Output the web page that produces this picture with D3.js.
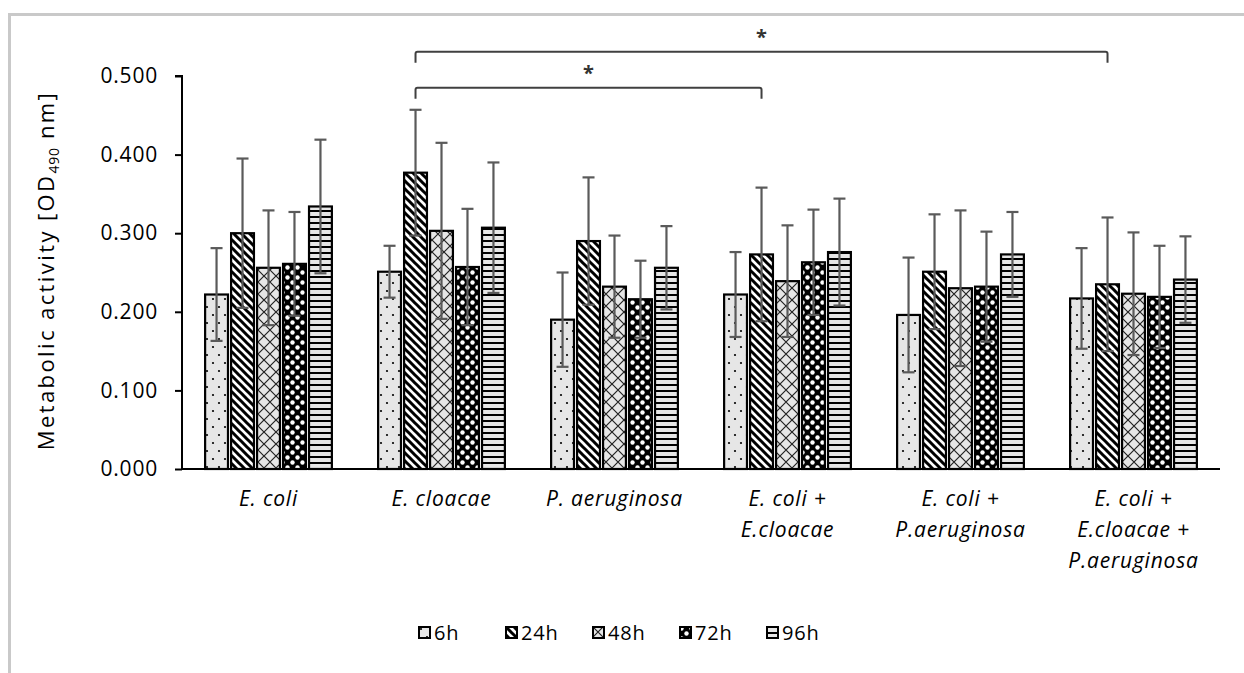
<!DOCTYPE html>
<meta charset="utf-8">
<script src="https://cdn.jsdelivr.net/npm/d3@7"></script>
<style>
    body { margin: 0; background: #fff; }
    text { font-family: "Open Sans", sans-serif; fill: #000; }
    .tick text { font-size: 21px; letter-spacing: 0.8px; }
    .xlab { font-style: italic; font-size: 21px; letter-spacing: 0.8px; }
</style>
<body>
<div id="chart"></div>
<script>

    var groups = ["E. coli", "E. cloacae", "P. aeruginosa", "E. coli + E.cloacae", "E. coli + P.aeruginosa", "E. coli + E.cloacae + P.aeruginosa"]
    var groupLines = [["E. coli"], ["E. cloacae"], ["P. aeruginosa"], ["E. coli +", "E.cloacae"], ["E. coli +", "P.aeruginosa"], ["E. coli +", "E.cloacae +", "P.aeruginosa"]]
    var series = ["6h", "24h", "48h", "72h", "96h"]

    // means per group, one entry per series
    var means = [
        [0.222, 0.300, 0.256, 0.261, 0.334],
        [0.251, 0.377, 0.303, 0.257, 0.307],
        [0.190, 0.290, 0.232, 0.216, 0.256],
        [0.222, 0.273, 0.239, 0.263, 0.276],
        [0.196, 0.251, 0.230, 0.232, 0.273],
        [0.217, 0.235, 0.223, 0.219, 0.241]
    ]
    // standard deviations
    var sds = [
        [0.059, 0.095, 0.073, 0.066, 0.085],
        [0.033, 0.080, 0.112, 0.074, 0.083],
        [0.060, 0.081, 0.065, 0.049, 0.053],
        [0.054, 0.085, 0.071, 0.067, 0.068],
        [0.073, 0.073, 0.099, 0.070, 0.054],
        [0.064, 0.085, 0.078, 0.065, 0.055]
    ]
    var yTicks = [0, 0.1, 0.2, 0.3, 0.4, 0.5]

    // significance brackets: [group, series] -> [group, series]
    var sigFrom = [[1, "24h"], [1, "24h"]]
    var sigTo = [[3, "24h"], [5, "24h"]]
    var sigLevel = [0.485, 0.531]
    var sigLabel = ["*", "*"]

    var W = 1244, H = 673
    var mLeft = 182, mRight = 1220, mTop = 76, mBottom = 469

    var svg = d3.select("#chart").append("svg").attr("width", W).attr("height", H)
    svg.append("rect").attr("width", W).attr("height", H).attr("fill", "#fff")

    // frame
    svg.append("path").attr("d", "M9.5," + H + " V14.5 H" + W).attr("fill", "none").attr("stroke", "#c9c9c9").attr("stroke-width", 3)

    var defs = svg.append("defs")
    var p6 = defs.append("pattern").attr("id", "p6h").attr("patternUnits", "userSpaceOnUse").attr("width", 12).attr("height", 16)
    p6.append("rect").attr("width", 12).attr("height", 16).attr("fill", "#e6e6e6")
    p6.append("circle").attr("cx", 3).attr("cy", 3).attr("r", 1.1).attr("fill", "#000")
    p6.append("circle").attr("cx", 9).attr("cy", 11).attr("r", 1.1).attr("fill", "#000")

    var p24 = defs.append("pattern").attr("id", "p24h").attr("patternUnits", "userSpaceOnUse").attr("width", 8).attr("height", 8)
    p24.append("rect").attr("width", 8).attr("height", 8).attr("fill", "#fff")
    p24.append("path").attr("d", "M-2,-2 L10,10 M-2,6 L2,10 M6,-2 L10,2").attr("stroke", "#000").attr("stroke-width", 3)

    var p48 = defs.append("pattern").attr("id", "p48h").attr("patternUnits", "userSpaceOnUse").attr("width", 12).attr("height", 12)
    p48.append("rect").attr("width", 12).attr("height", 12).attr("fill", "#e6e6e6")
    p48.append("path").attr("d", "M0,0 L12,12 M12,0 L0,12").attr("stroke", "#222").attr("stroke-width", 1.2)

    var p72 = defs.append("pattern").attr("id", "p72h").attr("patternUnits", "userSpaceOnUse").attr("width", 10).attr("height", 10)
    p72.append("rect").attr("width", 10).attr("height", 10).attr("fill", "#000")
    p72.append("circle").attr("cx", 2.5).attr("cy", 2.5).attr("r", 2.2).attr("fill", "#fff")
    p72.append("circle").attr("cx", 7.5).attr("cy", 7.5).attr("r", 2.2).attr("fill", "#fff")

    var p96 = defs.append("pattern").attr("id", "p96h").attr("patternUnits", "userSpaceOnUse").attr("width", 8).attr("height", 6)
    p96.append("rect").attr("width", 8).attr("height", 6).attr("fill", "#e6e6e6")
    p96.append("rect").attr("y", 0).attr("width", 8).attr("height", 2).attr("fill", "#000")

    var fillOf = (s) => "url(#p" + s + ")"

    var x = d3.scaleBand().domain(groups).range([mLeft, mRight])
    var xs = d3.scaleBand().domain(series).range([20, x.bandwidth() - 20]).padding(0.12)
    var y = d3.scaleLinear().domain([0, 0.5]).range([mBottom, mTop])

    // y axis
    var yAxis = svg.append("g").attr("transform", "translate(" + mLeft + ",0)")
        .call(d3.axisLeft(y).tickValues(yTicks).tickFormat(d3.format(".3f")).tickSize(7).tickPadding(17))
    yAxis.select(".domain").attr("stroke-width", 2).attr("d", "M-7," + y(0.5) + "H0V" + y(0))
    yAxis.selectAll(".tick line").attr("stroke-width", 2)

    var g = svg.append("g")
    var cells = []
    groups.forEach((gr, i) => {
        series.forEach((s, j) => {
            cells.push({ group: gr, s: s, m: means[i][j], sd: sds[i][j] })
        })
    })

    g.selectAll(".bar").data(cells).enter().append("rect").attr("class", "bar")
        .attr("x", (d) => x(d.group) + xs(d.s))
        .attr("width", xs.bandwidth())
        .attr("y", (d) => y(d.m))
        .attr("height", (d) => y(0) - y(d.m))
        .attr("fill", (d) => fillOf(d.s))
        .attr("stroke", "#000").attr("stroke-width", 2.2)

    // x axis
    svg.append("line").attr("x1", mLeft - 1).attr("x2", mRight).attr("y1", y(0)).attr("y2", y(0)).attr("stroke", "#000").attr("stroke-width", 2)

    // error bars
    var cx = (d) => x(d.group) + xs(d.s) + xs.bandwidth() / 2
    var eb = g.selectAll(".err").data(cells).enter().append("g").attr("class", "err").attr("stroke", "#5a5a5a").attr("stroke-width", 2.2)
    eb.append("line").attr("x1", cx).attr("x2", cx).attr("y1", (d) => y(d.m - d.sd)).attr("y2", (d) => y(d.m + d.sd))
    eb.append("line").attr("x1", (d) => cx(d) - 6).attr("x2", (d) => cx(d) + 6).attr("y1", (d) => y(d.m + d.sd)).attr("y2", (d) => y(d.m + d.sd))
    eb.append("line").attr("x1", (d) => cx(d) - 6).attr("x2", (d) => cx(d) + 6).attr("y1", (d) => y(d.m - d.sd)).attr("y2", (d) => y(d.m - d.sd))

    // category labels
    groupLines.forEach((lines, i) => {
        var t = svg.append("text").attr("class", "xlab").attr("text-anchor", "middle")
            .attr("x", x(groups[i]) + x.bandwidth() / 2).attr("y", 506)
        lines.forEach((ln, k) => {
            t.append("tspan").attr("x", x(groups[i]) + x.bandwidth() / 2).attr("dy", k == 0 ? 0 : 31).text(ln)
        })
    })

    // y title
    var yt = svg.append("text").attr("transform", "translate(54," + ((mTop + mBottom) / 2 - 2) + ") rotate(-90)")
        .attr("text-anchor", "middle").style("font-size", "22px").style("letter-spacing", "2.4px")
    yt.append("tspan").text("Metabolic activity [OD")
    yt.append("tspan").attr("dy", 5).style("font-size", "14px").style("letter-spacing", "0.8px").text("490")
    yt.append("tspan").attr("dy", -5).text(" nm]")

    // significance brackets
    sigFrom.forEach((f, k) => {
        var t = sigTo[k]
        var x1 = x(groups[f[0]]) + xs(f[1]) + xs.bandwidth() / 2
        var x2 = x(groups[t[0]]) + xs(t[1]) + xs.bandwidth() / 2
        var yy = y(sigLevel[k])
        svg.append("path").attr("d", "M" + x1 + "," + (yy + 11) + " V" + (yy + 2) + " Q" + x1 + "," + yy + " " + (x1 + 2) + "," + yy + " H" + (x2 - 2) + " Q" + x2 + "," + yy + " " + x2 + "," + (yy + 2) + " V" + (yy + 11))
            .attr("fill", "none").attr("stroke", "#404040").attr("stroke-width", 2)
        svg.append("text").attr("x", (x1 + x2) / 2).attr("y", yy - 8).attr("text-anchor", "middle").style("font-size", "20px").style("font-weight", "bold").style("fill", "#333").text(sigLabel[k])
    })

    // legend
    var leg = svg.append("g").attr("transform", "translate(418,626)")
    series.forEach((s, i) => {
        var it = leg.append("g").attr("transform", "translate(" + (i * 87) + ",0)")
        it.append("rect").attr("x", 1).attr("y", 1).attr("width", 11).attr("height", 11).attr("fill", fillOf(s)).attr("stroke", "#000").attr("stroke-width", 2)
        it.append("text").attr("x", 16).attr("y", 14).style("font-size", "20px").style("letter-spacing", "0.8px").text(s)
    })

</script>
</body>
</html>
